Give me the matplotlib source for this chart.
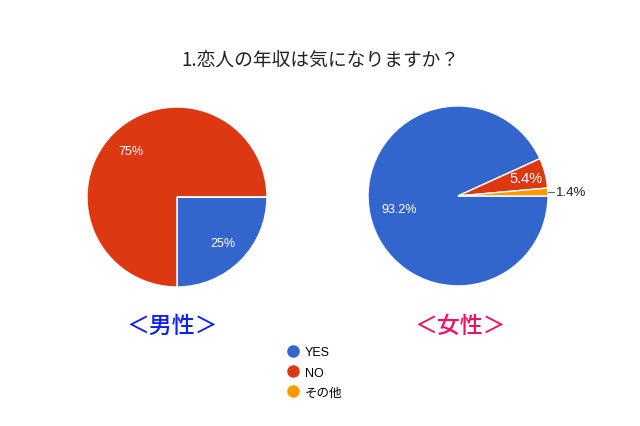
import numpy as np
import matplotlib.pyplot as plt
from matplotlib.lines import Line2D

plt.rcParams['font.family'] = ['Liberation Sans', 'Noto Sans CJK JP', 'DejaVu Sans']

labels = ['YES', 'NO', 'その他']
male = [25, 75, 0]
female = [93.2, 5.4, 1.4]
colors = ['#3366CC', '#DC3912', '#FF9900']

fig = plt.figure(figsize=(6.4, 4.27), dpi=100)

fig.text(0.5, 0.858, '1.恋人の年収は気になりますか？', ha='center', va='center',
         fontsize=13.5, color='#222222', family=['Noto Sans CJK JP', 'DejaVu Sans'])


def draw_pie(rect, values, label_dist, sizes):
    ax = fig.add_axes(rect)
    wedges, _ = ax.pie(values, colors=colors, startangle=0, counterclock=False,
                       wedgeprops=dict(edgecolor='white', linewidth=1))
    ax.set_xlim(-1, 1)
    ax.set_ylim(-1, 1)
    ax.set_aspect('equal')
    ax.axis('off')
    for w, v, d, s in zip(wedges, values, label_dist, sizes):
        if v == 0:
            continue
        ang = np.deg2rad((w.theta1 + w.theta2) / 2)
        txt = f'{v:g}%'
        if d > 1:
            x0, y0 = np.cos(ang), np.sin(ang)
            ax.plot([x0, x0 + 0.07], [y0, y0], color='#666666', lw=0.8, clip_on=False)
            ax.text(x0 + 0.09, y0, txt, ha='left', va='center', fontsize=s,
                    color='#222222', clip_on=False)
        else:
            ax.text(d * np.cos(ang), d * np.sin(ang), txt, ha='center', va='center',
                    fontsize=s, color='white')
    return ax


draw_pie([0.1359, 0.3255, 0.28125, 0.4215], male, [0.72, 0.72, 0], [9, 9, 9])
draw_pie([0.575, 0.328, 0.28125, 0.4215], female, [0.67, 0.78, 1.2], [9, 10.5, 9.5])

fig.text(0.269, 0.236, '＜男性＞', ha='center', va='center', fontsize=16.5,
         color='#1122EE', family=['Noto Sans CJK JP'], weight='medium')
fig.text(0.719, 0.236, '＜女性＞', ha='center', va='center', fontsize=16.5,
         color='#EE1166', family=['Noto Sans CJK JP'], weight='medium')

handles = [Line2D([], [], marker='o', linestyle='none', markersize=8,
                  markerfacecolor=c, markeredgecolor=c) for c in colors]
fig.legend(handles, labels, loc='center', bbox_to_anchor=(0.49, 0.125),
           frameon=False, handletextpad=0.35, labelspacing=0.65, handlelength=1.2,
           prop={'family': ['Liberation Sans', 'Noto Sans CJK JP'], 'size': 9})

fig.savefig('out.png', dpi=100)
